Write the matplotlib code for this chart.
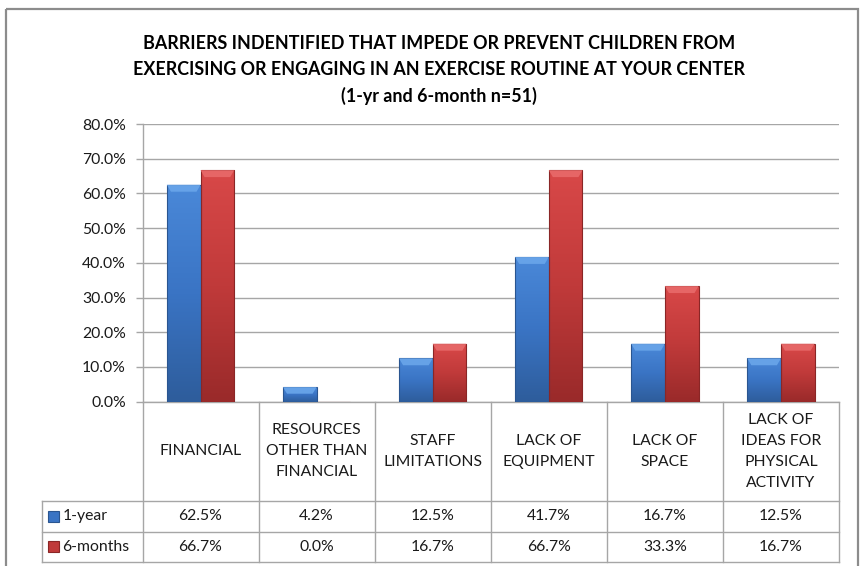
import numpy as np
import matplotlib
matplotlib.use("Agg")
import matplotlib.pyplot as plt
from matplotlib.patches import Rectangle, Polygon
from matplotlib.lines import Line2D
from matplotlib.colors import LinearSegmentedColormap

plt.rcParams['font.family'] = ['Lato', 'DejaVu Sans']

# ---- data ----
categories = ["FINANCIAL", "RESOURCES\nOTHER THAN\nFINANCIAL", "STAFF\nLIMITATIONS",
              "LACK OF\nEQUIPMENT", "LACK OF\nSPACE", "LACK OF\nIDEAS FOR\nPHYSICAL\nACTIVITY"]
series_names = ["1-year", "6-months"]
one_year = [62.5, 4.2, 12.5, 41.7, 16.7, 12.5]
six_months = [66.7, 0.0, 16.7, 66.7, 33.3, 16.7]
y_ticks = [0, 10, 20, 30, 40, 50, 60, 70, 80]
title = ("BARRIERS INDENTIFIED THAT IMPEDE OR PREVENT CHILDREN FROM\n"
         "EXERCISING OR ENGAGING IN AN EXERCISE ROUTINE AT YOUR CENTER\n"
         "(1-yr and 6-month n=51)")

W, H = 861, 566
fig = plt.figure(figsize=(W / 100, H / 100), dpi=100)

# pixel layout of the plot area
PL, PR, PT, PB = 142.5, 839.0, 124.0, 401.7
ax = fig.add_axes([PL / W, 1 - PB / H, (PR - PL) / W, (PB - PT) / H])

# overlay in pixel coordinates for frame, title and data table
ov = fig.add_axes([0, 0, 1, 1], zorder=-1)
ov.set_xlim(0, W)
ov.set_ylim(H, 0)
ov.axis("off")

grid_c = "#a6a6a6"
text_c = "#1a1a1a"
fs = 11.3

# outer chart frame
ov.add_patch(Rectangle((6, 9), 852, 600, fill=False, ec="#8c8c8c", lw=1.6))

fig.text(439 / W, 1 - 70 / H, title, ha="center", va="center", fontsize=12.9,
         fontweight="bold", color="#000000", linespacing=1.6)

n = len(categories)
x = np.arange(n)
bw = 0.29

blue_cmap = LinearSegmentedColormap.from_list("b", ["#2e5d9c", "#3a74c4", "#4a88d8"])
red_cmap = LinearSegmentedColormap.from_list("r", ["#9a2a2a", "#c03a3a", "#d84848"])
grad = np.linspace(0, 1, 64).reshape(-1, 1)

def draw_bars(xs, vals, cmap, top_col, edge):
    bars = ax.bar(xs, vals, width=bw, color="none", edgecolor=edge, lw=0.8, zorder=3)
    for b, v in zip(bars, vals):
        if v <= 0:
            continue
        x0 = b.get_x()
        im = ax.imshow(grad, extent=(x0, x0 + bw, 0, v), origin="lower", cmap=cmap,
                       aspect="auto", zorder=2, interpolation="bilinear")
        im.set_clip_path(b)
        # bevelled top edge
        dh = min(2.0, v * 0.45)
        dx = bw * 0.12
        ax.add_patch(Polygon([(x0, v), (x0 + bw, v), (x0 + bw - dx, v - dh), (x0 + dx, v - dh)],
                             closed=True, fc=top_col, ec="none", zorder=4, alpha=0.9))
    return bars

draw_bars(x - bw / 2, one_year, blue_cmap, "#6aa6ea", "#2a5590")
draw_bars(x + bw / 2, six_months, red_cmap, "#e86a6a", "#8a2626")

ax.set_xlim(-0.5, n - 0.5)
ax.set_ylim(0, 80)
ax.set_yticks(y_ticks)
ax.set_yticklabels([f"{t:.1f}%" for t in y_ticks], fontsize=fs, color=text_c)
ax.tick_params(axis="y", length=5, width=1, color=grid_c, pad=7)
ax.set_xticks([])
ax.grid(axis="y", color=grid_c, lw=1, zorder=0)
ax.set_axisbelow(True)
for s in ["top", "right", "bottom"]:
    ax.spines[s].set_visible(False)
ax.spines["left"].set_color(grid_c)
ax.spines["left"].set_linewidth(1)
ax.patch.set_alpha(0)

# ---- data table below the plot ----
col_w = (PR - PL) / n
LEG_L = 41.7
R1, R2, R3 = 501.0, 531.7, 561.7

def hline(y, x0, x1):
    ov.add_line(Line2D([x0, x1], [y, y], color=grid_c, lw=1))

def vline(xp, y0, y1):
    ov.add_line(Line2D([xp, xp], [y0, y1], color=grid_c, lw=1))

hline(PB, PL, PR)
for y in (R1, R2, R3):
    hline(y, LEG_L, PR)
for i in range(n + 1):
    vline(PL + i * col_w, PB, R3)
vline(LEG_L, R1, R3)

for i, cat in enumerate(categories):
    ov.text(PL + (i + 0.5) * col_w, (PB + R1) / 2, cat, ha="center", va="center",
            fontsize=fs, color=text_c, linespacing=1.65)

rows = [(one_year, R1, R2), (six_months, R2, R3)]
legend_cols = [("#3a74c4", "#2a5590"), ("#c03a3a", "#8a2626")]
for k, ((vals, y0, y1), name, (fc, ec)) in enumerate(zip(rows, series_names, legend_cols)):
    yc = (y0 + y1) / 2
    ov.add_patch(Rectangle((48, yc - 5.5), 11, 11, fc=fc, ec=ec, lw=0.8))
    ov.text(62.5, yc, name, ha="left", va="center", fontsize=fs, color=text_c)
    for i, v in enumerate(vals):
        ov.text(PL + (i + 0.5) * col_w, yc, f"{v:.1f}%", ha="center", va="center",
                fontsize=fs, color=text_c)

fig.savefig("out.png", dpi=100, facecolor="white")
